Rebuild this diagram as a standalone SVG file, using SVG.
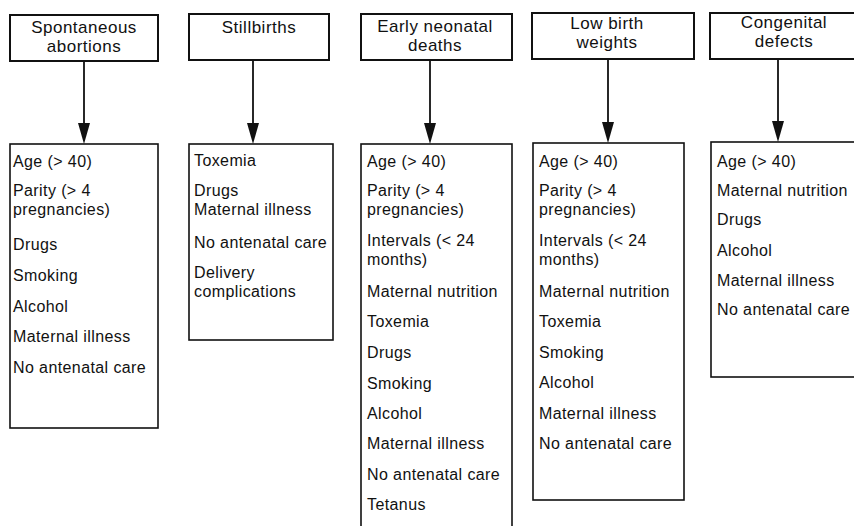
<svg xmlns="http://www.w3.org/2000/svg" width="854" height="526" viewBox="0 0 854 526">
<defs>
<style>
.hdr{fill:#fff;stroke:#111;stroke-width:2}
.box{fill:#fff;stroke:#111;stroke-width:1.6}
.ht{font-family:"Liberation Sans",Arial,sans-serif;font-size:17px;letter-spacing:0.5px;fill:#111;text-anchor:middle}
.bt{font-family:"Liberation Sans",Arial,sans-serif;font-size:16px;letter-spacing:0.4px;fill:#111}
.conn line{stroke:#111;stroke-width:1.8}
.conn path{fill:#111;stroke:none}
</style>
</defs>
<rect width="854" height="526" fill="#fff"/>

<g id="connectors" class="conn">
<line x1="84" y1="61" x2="84" y2="128"/><path d="M78,123 L90,123 L84,144 Z"/>
<line x1="253" y1="60" x2="253" y2="128"/><path d="M247,123 L259,123 L253,144 Z"/>
<line x1="430" y1="60" x2="430" y2="128"/><path d="M424,123 L436,123 L430,144 Z"/>
<line x1="608" y1="59" x2="608" y2="127"/><path d="M602,122 L614,122 L608,143 Z"/>
<line x1="778" y1="59" x2="778" y2="126"/><path d="M772,121 L784,121 L778,142 Z"/>
</g>

<g id="h1">
<rect class="hdr" x="10" y="15" width="148" height="46"/>
<text class="ht" x="84" y="33">Spontaneous</text>
<text class="ht" x="84" y="52">abortions</text>
</g>
<g id="h2">
<rect class="hdr" x="189" y="14" width="140" height="46"/>
<text class="ht" x="259" y="33">Stillbirths</text>
</g>
<g id="h3">
<rect class="hdr" x="361" y="14" width="151" height="46"/>
<text class="ht" x="435" y="32">Early neonatal</text>
<text class="ht" x="435" y="51">deaths</text>
</g>
<g id="h4">
<rect class="hdr" x="532" y="13" width="162" height="46"/>
<text class="ht" x="607" y="29">Low birth</text>
<text class="ht" x="607" y="48">weights</text>
</g>
<g id="h5">
<rect class="hdr" x="710" y="13" width="150" height="46"/>
<text class="ht" x="784" y="28">Congenital</text>
<text class="ht" x="784" y="47">defects</text>
</g>

<g id="b1">
<rect class="box" x="10" y="144" width="148" height="284"/>
<text class="bt" x="13" y="167">Age (&gt; 40)</text>
<text class="bt" x="13" y="196">Parity (&gt; 4</text>
<text class="bt" x="13" y="215">pregnancies)</text>
<text class="bt" x="13" y="250">Drugs</text>
<text class="bt" x="13" y="281">Smoking</text>
<text class="bt" x="13" y="312">Alcohol</text>
<text class="bt" x="13" y="342">Maternal illness</text>
<text class="bt" x="13" y="373">No antenatal care</text>
</g>
<g id="b2">
<rect class="box" x="189" y="144" width="144" height="196"/>
<text class="bt" x="194" y="166">Toxemia</text>
<text class="bt" x="194" y="196">Drugs</text>
<text class="bt" x="194" y="215">Maternal illness</text>
<text class="bt" x="194" y="248">No antenatal care</text>
<text class="bt" x="194" y="278">Delivery</text>
<text class="bt" x="194" y="297">complications</text>
</g>
<g id="b3">
<rect class="box" x="361" y="144" width="151" height="400"/>
<text class="bt" x="367" y="167">Age (&gt; 40)</text>
<text class="bt" x="367" y="196">Parity (&gt; 4</text>
<text class="bt" x="367" y="215">pregnancies)</text>
<text class="bt" x="367" y="246">Intervals (&lt; 24</text>
<text class="bt" x="367" y="265">months)</text>
<text class="bt" x="367" y="297">Maternal nutrition</text>
<text class="bt" x="367" y="327">Toxemia</text>
<text class="bt" x="367" y="358">Drugs</text>
<text class="bt" x="367" y="389">Smoking</text>
<text class="bt" x="367" y="419">Alcohol</text>
<text class="bt" x="367" y="449">Maternal illness</text>
<text class="bt" x="367" y="480">No antenatal care</text>
<text class="bt" x="367" y="510">Tetanus</text>
</g>
<g id="b4">
<rect class="box" x="533" y="143" width="151" height="357"/>
<text class="bt" x="539" y="167">Age (&gt; 40)</text>
<text class="bt" x="539" y="196">Parity (&gt; 4</text>
<text class="bt" x="539" y="215">pregnancies)</text>
<text class="bt" x="539" y="246">Intervals (&lt; 24</text>
<text class="bt" x="539" y="265">months)</text>
<text class="bt" x="539" y="297">Maternal nutrition</text>
<text class="bt" x="539" y="327">Toxemia</text>
<text class="bt" x="539" y="358">Smoking</text>
<text class="bt" x="539" y="388">Alcohol</text>
<text class="bt" x="539" y="419">Maternal illness</text>
<text class="bt" x="539" y="449">No antenatal care</text>
</g>
<g id="b5">
<rect class="box" x="711" y="142" width="150" height="235"/>
<text class="bt" x="717" y="167">Age (&gt; 40)</text>
<text class="bt" x="717" y="196">Maternal nutrition</text>
<text class="bt" x="717" y="225">Drugs</text>
<text class="bt" x="717" y="256">Alcohol</text>
<text class="bt" x="717" y="286">Maternal illness</text>
<text class="bt" x="717" y="315">No antenatal care</text>
</g>
</svg>
